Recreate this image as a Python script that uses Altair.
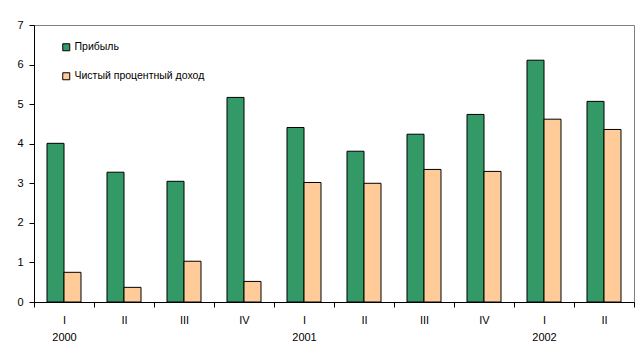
import json
import altair as alt
import pandas as pd

quarters = ["I", "II", "III", "IV", "I", "II", "III", "IV", "I", "II"]
years = ["2000", "", "", "", "2001", "", "", "", "2002", ""]
profit = [4.01, 3.28, 3.05, 5.17, 4.41, 3.81, 4.24, 4.74, 6.11, 5.07]
net_interest = [0.75, 0.37, 1.03, 0.52, 3.02, 3.00, 3.35, 3.30, 4.62, 4.36]
series = ["Прибыль", "Чистый процентный доход"]
colors = ["#339966", "#FFCC99"]

rows = []
for i in range(len(quarters)):
    rows.append({"idx": i, "series": series[0], "value": profit[i]})
    rows.append({"idx": i, "series": series[1], "value": net_interest[i]})
df = pd.DataFrame(rows)

label_expr = json.dumps([[q, y] for q, y in zip(quarters, years)]) + "[datum.value]"
font = "Liberation Sans"

chart = alt.Chart(df).mark_bar(stroke="black", strokeWidth=1).encode(
    x=alt.X(
        "idx:O",
        scale=alt.Scale(paddingInner=0, paddingOuter=0),
        axis=alt.Axis(
            title=None, labelAngle=0, labelExpr=label_expr, tickBand="extent",
            tickSize=5, tickColor="black", domainColor="black", labelPadding=7,
            labelLineHeight=17, labelFontSize=11, labelFont=font, labelColor="black",
            labelBaseline="top",
        ),
    ),
    xOffset=alt.XOffset("series:N", sort=series,
                        scale=alt.Scale(paddingInner=0, paddingOuter=0.765)),
    y=alt.Y(
        "value:Q",
        scale=alt.Scale(domain=[0, 7], nice=False),
        axis=alt.Axis(
            title=None, values=list(range(8)), grid=False, tickSize=5,
            tickColor="black", domainColor="black", labelPadding=6,
            labelFontSize=11, labelFont=font, labelColor="black",
        ),
    ),
    color=alt.Color(
        "series:N", sort=series,
        scale=alt.Scale(domain=series, range=colors),
        legend=alt.Legend(
            title=None, orient="none", legendX=27, legendY=17, padding=0,
            symbolType="square", symbolSize=49, symbolStrokeColor="black",
            symbolStrokeWidth=1, labelFont=font, labelFontSize=10.5,
            labelColor="black", rowPadding=17, labelOffset=3,
        ),
    ),
).properties(
    width=600, height=277,
    padding={"left": 34, "top": 25, "right": 7, "bottom": 52},
    autosize=alt.AutoSizeParams(type="none"),
).configure_view(stroke="#808080", strokeWidth=1)

chart.save("out.html", embed_options={"renderer": "svg", "actions": False})
